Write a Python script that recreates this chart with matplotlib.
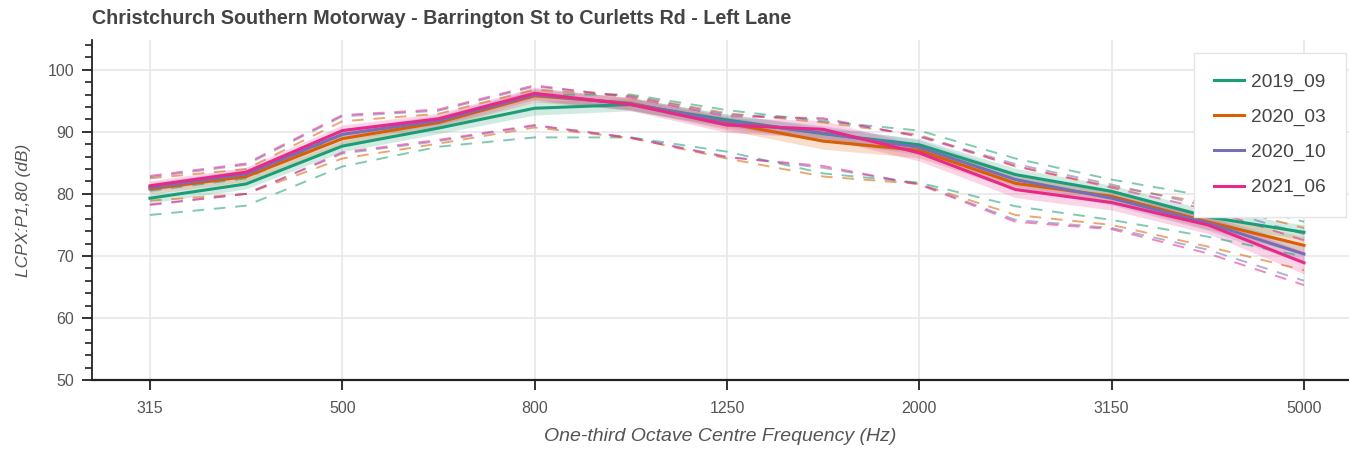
import numpy as np
import matplotlib
matplotlib.use('Agg')
from matplotlib import pyplot as plt
from matplotlib.ticker import MultipleLocator, FixedLocator, FixedFormatter

plt.rcParams['font.family'] = ['Liberation Sans', 'DejaVu Sans']

freqs = ['315', '400', '500', '630', '800', '1000', '1250', '1600', '2000',
         '2500', '3150', '4000', '5000']
shown_ticks = ['315', '500', '800', '1250', '2000', '3150', '5000']

labels = ['2019_09', '2020_03', '2020_10', '2021_06']
colors = ['#1b9e77', '#d95f02', '#7570b3', '#e7298a']

# mean level per survey
mean_1909 = [79.3, 81.6, 87.7, 90.6, 93.8, 94.4, 91.9, 89.7, 87.9, 83.1, 80.4, 76.3, 73.8]
mean_2003 = [80.8, 82.8, 88.9, 91.5, 95.8, 94.6, 91.4, 88.5, 87.0, 81.7, 79.6, 75.5, 71.7]
mean_2010 = [81.0, 83.2, 89.6, 91.8, 96.0, 94.5, 91.7, 89.8, 87.5, 82.3, 79.3, 75.3, 70.3]
mean_2106 = [81.3, 83.5, 90.2, 92.1, 96.2, 94.4, 91.1, 90.4, 86.6, 80.7, 78.6, 75.0, 68.9]

# shaded band half width
band_1909 = [0.8, 0.8, 0.9, 0.9, 1.1, 1.0, 1.0, 1.0, 1.0, 1.0, 1.0, 1.1, 1.2]
band_2003 = [0.8, 0.8, 0.9, 0.9, 1.0, 1.0, 1.1, 1.3, 1.2, 1.1, 1.1, 1.2, 1.4]
band_2010 = [0.8, 0.8, 0.9, 0.9, 1.0, 1.0, 1.1, 1.2, 1.2, 1.1, 1.1, 1.2, 1.5]
band_2106 = [0.8, 0.8, 0.9, 0.9, 1.0, 1.0, 1.2, 1.4, 1.3, 1.3, 1.2, 1.4, 1.8]

# dashed upper / lower envelopes
upper_1909 = [80.5, 82.5, 89.5, 92.0, 96.0, 96.0, 93.5, 91.7, 90.2, 85.7, 82.3, 79.6, 75.5]
upper_2003 = [82.5, 84.0, 91.7, 92.9, 96.8, 95.8, 93.0, 91.5, 89.5, 84.4, 81.2, 78.5, 74.5]
upper_2010 = [82.7, 84.7, 92.5, 93.4, 97.3, 95.7, 92.8, 92.0, 89.3, 84.8, 81.5, 78.0, 73.5]
upper_2106 = [82.9, 84.9, 92.7, 93.6, 97.5, 95.5, 92.5, 92.2, 89.2, 84.5, 81.0, 77.5, 72.5]

lower_1909 = [76.6, 78.1, 84.4, 87.6, 89.1, 89.1, 86.8, 83.3, 81.8, 78.0, 75.8, 73.1, 69.9]
lower_2003 = [78.9, 80.0, 85.7, 88.1, 90.7, 89.0, 85.7, 82.8, 81.6, 76.6, 75.0, 71.5, 67.7]
lower_2010 = [78.3, 80.0, 86.5, 88.5, 91.0, 89.1, 86.0, 84.2, 81.6, 75.8, 74.5, 71.0, 66.0]
lower_2106 = [78.2, 80.0, 86.7, 88.7, 91.1, 89.0, 85.9, 84.5, 81.5, 75.5, 74.3, 70.4, 65.3]

means = [mean_1909, mean_2003, mean_2010, mean_2106]
bands = [band_1909, band_2003, band_2010, band_2106]
uppers = [upper_1909, upper_2003, upper_2010, upper_2106]
lowers = [lower_1909, lower_2003, lower_2010, lower_2106]

x = np.arange(len(freqs))

fig = plt.figure(figsize=(13.49, 4.51), dpi=100)
ax = fig.add_axes([92 / 1349, 1 - 380 / 451, 1 - 92 / 1349, 340 / 451])

for m, b, u, l, c in zip(means, bands, uppers, lowers, colors):
    m = np.array(m)
    b = np.array(b)
    ax.fill_between(x, m - b, m + b, color=c, alpha=0.2, lw=0)
    ax.plot(x, u, color=c, alpha=0.55, lw=1.4, dashes=(6, 5))
    ax.plot(x, l, color=c, alpha=0.55, lw=1.4, dashes=(6, 5))
for m, c, lab in zip(means, colors, labels):
    ax.plot(x, m, color=c, lw=2.2, label=lab)

ax.set_xlim(-0.603, 12.468)
ax.set_ylim(50, 104.8)

tick_pos = [freqs.index(t) for t in shown_ticks]
ax.xaxis.set_major_locator(FixedLocator(tick_pos))
ax.xaxis.set_major_formatter(FixedFormatter(shown_ticks))
ax.yaxis.set_major_locator(MultipleLocator(10))
ax.yaxis.set_minor_locator(MultipleLocator(2))

ax.grid(True, color='#e6e6e6', lw=1.1)
ax.set_axisbelow(True)
for s in ['top', 'right']:
    ax.spines[s].set_visible(False)
ax.spines['left'].set_color('#222222')
ax.spines['bottom'].set_color('#222222')
ax.spines['left'].set_linewidth(1.3)
ax.spines['bottom'].set_linewidth(1.6)

ax.tick_params(axis='both', which='major', direction='out', length=7, width=1.3,
               colors='#222222', labelcolor='#555555', labelsize=11.5)
ax.tick_params(axis='y', which='minor', direction='out', length=5, width=1.2,
               color='#222222')
ax.tick_params(axis='x', pad=8)
ax.tick_params(axis='y', pad=6)

ax.set_xlabel('One-third Octave Centre Frequency (Hz)', fontsize=14,
              style='italic', color='#555555', labelpad=9)
ax.set_ylabel('LCPX:P1,80 (dB)', fontsize=12.5, style='italic',
              color='#555555', labelpad=12)

fig.text(92 / 1349, 1 - 18 / 451, 'Christchurch Southern Motorway - Barrington St to Curletts Rd - Left Lane',
         fontsize=14.2, fontweight='bold', color='#444444', va='center', ha='left')

leg = ax.legend(loc='upper right', bbox_to_anchor=(1346 / 1349, 1 - 53 / 451),
                bbox_transform=fig.transFigure, fontsize=13.8, frameon=True,
                fancybox=False, framealpha=1, edgecolor='#e5e5e5',
                handlelength=1.6, handletextpad=0.35, labelspacing=0.92,
                borderpad=1.05, borderaxespad=0)
for t in leg.get_texts():
    t.set_color('#444444')
leg.get_frame().set_linewidth(1.0)

fig.savefig('out.png', dpi=100)
